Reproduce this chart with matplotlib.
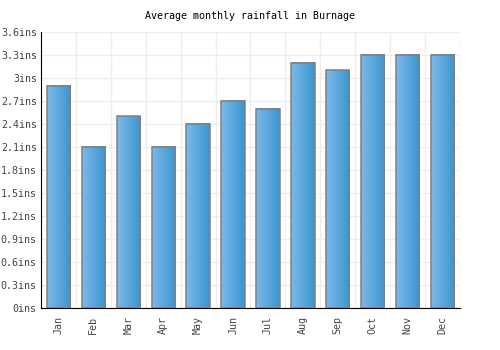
import matplotlib
matplotlib.use("Agg")
import matplotlib.pyplot as plt
import numpy as np
from matplotlib.colors import LinearSegmentedColormap

months = ["Jan", "Feb", "Mar", "Apr", "May", "Jun", "Jul", "Aug", "Sep", "Oct", "Nov", "Dec"]
rainfall = [2.9, 2.1, 2.5, 2.1, 2.4, 2.7, 2.6, 3.2, 3.1, 3.3, 3.3, 3.3]
yticks = [0, 0.3, 0.6, 0.9, 1.2, 1.5, 1.8, 2.1, 2.4, 2.7, 3.0, 3.3, 3.6]
ytick_labels = ["0ins", "0.3ins", "0.6ins", "0.9ins", "1.2ins", "1.5ins", "1.8ins",
                "2.1ins", "2.4ins", "2.7ins", "3ins", "3.3ins", "3.6ins"]
title = "Average monthly rainfall in Burnage"

plt.rcParams['font.family'] = ['DejaVu Sans Mono']

fig = plt.figure(figsize=(5, 3.5), dpi=100)
ax = fig.add_axes([0.082, 0.12, 0.838, 0.789])

x = np.arange(len(months))
width = 0.67
cmap = LinearSegmentedColormap.from_list("g", ["#7cb9ea", "#3a95cf"])
grad = np.linspace(0, 1, 64).reshape(1, -1)

bars = ax.bar(x, rainfall, width=width, facecolor="none", edgecolor="#808080", linewidth=1.1, zorder=3)
for b in bars:
    bx, by = b.get_x(), b.get_y()
    w, h = b.get_width(), b.get_height()
    ax.imshow(grad, cmap=cmap, aspect="auto", extent=[bx, bx + w, by, by + h], zorder=2, interpolation="bicubic")

ax.set_xlim(-0.5, len(months) - 0.5)
ax.set_ylim(0, 3.6)
ax.set_yticks(yticks)
ax.set_yticklabels(ytick_labels)
ax.set_xticks(x)
ax.set_xticklabels(months, rotation=90)
ax.set_xticks(np.arange(-0.5, len(months), 1), minor=True)
ax.grid(True, which="minor", axis="x", color="#eeeeee", linewidth=1, zorder=0)
ax.grid(True, which="major", axis="y", color="#eeeeee", linewidth=1, zorder=0)
ax.tick_params(axis="both", which="both", length=0, labelsize=7.2, colors="#444444")
ax.tick_params(axis="x", pad=6)
ax.tick_params(axis="y", pad=3)
for lbl in ax.get_xticklabels() + ax.get_yticklabels():
    lbl.set_color("#444444")
ax.spines["top"].set_visible(False)
ax.spines["right"].set_visible(False)
ax.spines["left"].set_color("black")
ax.spines["bottom"].set_color("black")
ax.set_axisbelow(True)

fig.text(0.5, 0.953, title, ha="center", va="center", fontsize=7.2, color="black")

fig.savefig("out.png", dpi=100)
